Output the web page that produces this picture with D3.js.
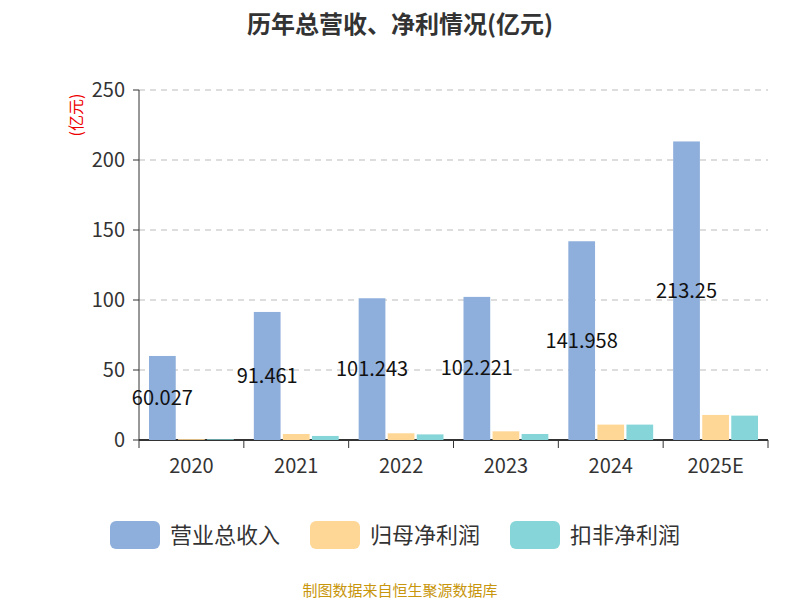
<!DOCTYPE html><html><head><meta charset="utf-8"><script src="https://cdn.jsdelivr.net/npm/d3@7"></script>
<style>body{margin:0;background:#fff}text{font-family:"Noto Sans CJK SC","Noto Sans",sans-serif}</style></head><body><svg id="c" width="800" height="600"></svg><script>
const categories=["2020","2021","2022","2023","2024","2025E"];
const revenue=[60.027,91.461,101.243,102.221,141.958,213.25];
const netProfit=[0.6,4.3,4.8,6.2,11.0,17.9];
const deductedProfit=[0.5,2.9,4.0,4.3,11.0,17.4];
const seriesNames=["营业总收入","归母净利润","扣非净利润"];
const colors=["#8eaedb","#fed797","#86d5d8"];
const yTicks=[0,50,100,150,200,250];
const svg=d3.select("#c");
const L=139,R=768,T=90,B=440;
const x=d3.scaleBand().domain(categories).range([L,R]);
const y=d3.scaleLinear().domain([0,250]).range([B,T]);
svg.append("text").attr("x",400).attr("y",33).attr("text-anchor","middle").attr("font-size",24).attr("font-weight","bold").attr("fill","#333").text("历年总营收、净利情况(亿元)");
yTicks.forEach(t=>{if(t>0)svg.append("line").attr("x1",L).attr("x2",R).attr("y1",y(t)).attr("y2",y(t)).attr("stroke","#bbb").attr("stroke-dasharray","6,5");
svg.append("text").attr("x",L-14).attr("y",y(t)+7).attr("text-anchor","end").attr("font-size",20).attr("fill","#333").text(t);
svg.append("line").attr("x1",L-6).attr("x2",L).attr("y1",y(t)).attr("y2",y(t)).attr("stroke","#333");});
svg.append("line").attr("x1",L).attr("x2",L).attr("y1",T).attr("y2",B).attr("stroke","#333");
svg.append("line").attr("x1",L).attr("x2",R).attr("y1",B).attr("y2",B).attr("stroke","#333").attr("stroke-width",2);
categories.forEach((c,i)=>{svg.append("line").attr("x1",x(c)).attr("x2",x(c)).attr("y1",B).attr("y2",B+8).attr("stroke","#333");
svg.append("text").attr("x",x(c)+x.bandwidth()/2).attr("y",B+33).attr("text-anchor","middle").attr("font-size",20).attr("fill","#333").text(c);});
svg.append("line").attr("x1",R).attr("x2",R).attr("y1",B).attr("y2",B+8).attr("stroke","#333");
svg.append("text").attr("transform","translate(82,115) rotate(-90)").attr("text-anchor","middle").attr("font-size",16).attr("fill","#e00").text("(亿元)");
const inner=d3.scaleBand().domain([0,1,2]).range([10,x.bandwidth()-10]).paddingInner(0.08);
[revenue,netProfit,deductedProfit].forEach((s,k)=>{
svg.selectAll(null).data(s).enter().append("rect").attr("x",(d,i)=>x(categories[i])+inner(k)).attr("width",inner.bandwidth()).attr("y",d=>y(d)).attr("height",d=>B-y(d)).attr("fill",colors[k]);});
svg.selectAll(null).data(revenue).enter().append("text").attr("x",(d,i)=>x(categories[i])+inner(0)+inner.bandwidth()/2).attr("y",d=>(y(d)+B)/2+7).attr("text-anchor","middle").attr("font-size",20).attr("fill","#111").text(d=>d);
const lx=[110,310,510];
seriesNames.forEach((n,k)=>{svg.append("rect").attr("x",lx[k]).attr("y",521).attr("width",50).attr("height",28).attr("rx",6).attr("fill",colors[k]);
svg.append("text").attr("x",lx[k]+60).attr("y",543).attr("font-size",22).attr("fill","#333").text(n);});
svg.append("text").attr("x",400).attr("y",596).attr("text-anchor","middle").attr("font-size",15).attr("fill","#c8960c").text("制图数据来自恒生聚源数据库");
</script></body></html>
